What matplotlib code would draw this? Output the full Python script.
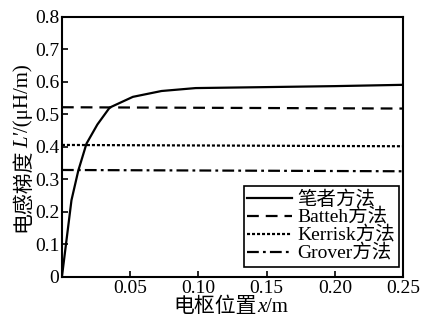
import matplotlib
matplotlib.use("Agg")
from matplotlib import pyplot as plt
from matplotlib.ticker import FixedLocator, FixedFormatter

plt.rcParams['font.family'] = ['Liberation Serif', 'Noto Sans CJK SC']
plt.rcParams['lines.scale_dashes'] = False

# curve
pos_x = [0, 0.007, 0.012, 0.018, 0.026, 0.035, 0.052, 0.073, 0.098, 0.15, 0.2, 0.25]
ours = [0, 0.236, 0.327, 0.41, 0.469, 0.521, 0.554, 0.572, 0.581, 0.584, 0.587, 0.591]

# reference methods: value at the two ends of the x range
ends_x = [0, 0.25]
batteh = [0.522, 0.518]
kerrisk = [0.406, 0.402]
grover = [0.329, 0.325]

labels = ['笔者方法', 'Batteh方法', 'Kerrisk方法', 'Grover方法']
xticks = [0.05, 0.10, 0.15, 0.20, 0.25]
xtick_labels = ['0.05', '0.10', '0.15', '0.20', '0.25']
yticks = [0, 0.1, 0.2, 0.3, 0.4, 0.5, 0.6, 0.7, 0.8]
ytick_labels = ['0', '0.1', '0.2', '0.3', '0.4', '0.5', '0.6', '0.7', '0.8']


def place_pieces(fig, pieces, cx, cy, vertical=False, size=13):
    # write a label made of several pieces (CJK text + italic symbol),
    # centred on pixel (cx, cy); baseline along x (or along y if vertical)
    renderer = fig.canvas.get_renderer()
    texts = []
    lengths = []
    for s, style in pieces:
        t = fig.text(0, 0, s, fontsize=size, style=style,
                     rotation=90 if vertical else 0, rotation_mode='anchor',
                     ha='left', va='baseline', transform=None)
        bb = t.get_window_extent(renderer)
        texts.append(t)
        lengths.append(bb.height if vertical else bb.width)
    total = sum(lengths)
    pos = (cy if vertical else cx) - total / 2
    for t, ln in zip(texts, lengths):
        if vertical:
            t.set_position((cx, pos))
        else:
            t.set_position((pos, cy))
        pos += ln


fig = plt.figure(figsize=(4.27, 3.25), dpi=100)
ax = fig.add_axes([0.145, 0.148, 0.799, 0.8])

ax.plot(pos_x, ours, color='black', lw=1.6, label=labels[0])
ax.plot(ends_x, batteh, color='black', lw=1.6, dashes=(8.5, 5), label=labels[1])
ax.plot(ends_x, kerrisk, color='black', lw=1.6, dashes=(2.2, 1.4), label=labels[2])
ax.plot(ends_x, grover, color='black', lw=1.6, dashes=(8.5, 3, 2, 3), label=labels[3])

ax.set_xlim(0, 0.25)
ax.set_ylim(0, 0.8)
ax.xaxis.set_major_locator(FixedLocator(xticks))
ax.xaxis.set_major_formatter(FixedFormatter(xtick_labels))
ax.yaxis.set_major_locator(FixedLocator(yticks))
ax.yaxis.set_major_formatter(FixedFormatter(ytick_labels))
ax.tick_params(direction='in', length=4, width=1.2, labelsize=14, pad=2)
for s in ax.spines.values():
    s.set_linewidth(1.5)

leg = ax.legend(loc='lower right', bbox_to_anchor=(0.987, 0.04), fontsize=14,
                frameon=True, fancybox=False, framealpha=1, edgecolor='black',
                labelspacing=0.0, handlelength=2.3, handletextpad=0.25,
                borderpad=0.2, borderaxespad=0)
leg.get_frame().set_linewidth(1.2)

# axis labels, in pixels from the bottom-left corner
place_pieces(fig, [('电枢位置', 'normal'), ('x', 'italic'), ('/m', 'normal')],
             231, 325 - 312, size=15)
place_pieces(fig, [('电感梯度', 'normal'), ("L'", 'italic'), ('/(μH/m)', 'normal')],
             28, 325 - 148, vertical=True, size=15)

fig.savefig('out.png', dpi=100)
